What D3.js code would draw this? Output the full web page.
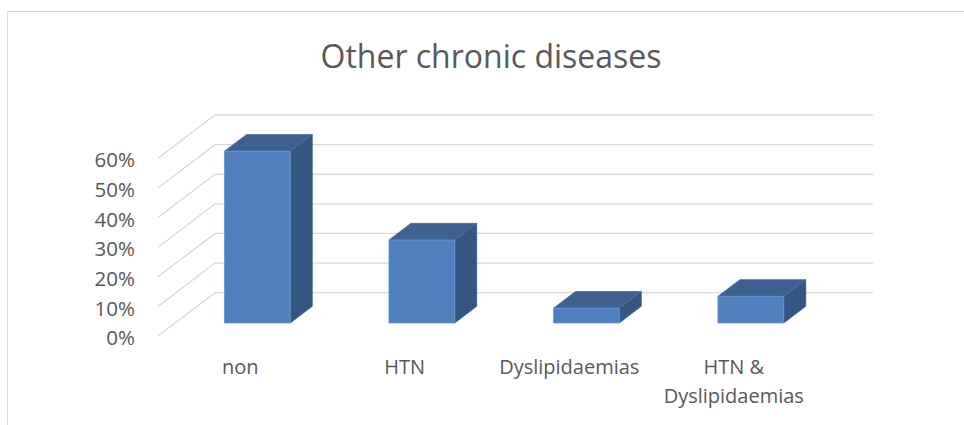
<!DOCTYPE html>
<html>
<head>
<meta charset="utf-8">
<script src="https://cdn.jsdelivr.net/npm/d3@7"></script>
<style>
  html, body { margin: 0; padding: 0; background: #fff; }
  svg { display: block; }
  text { font-family: "Open Sans", "Noto Sans", sans-serif; fill: #595959; }
</style>
</head>
<body>
<svg id="chart" width="964" height="425"></svg>
<script>
// Share of respondents by other chronic disease
const categories = ["non", "HTN", "Dyslipidaemias", "HTN & Dyslipidaemias"];
const values = [0.58, 0.28, 0.05, 0.09];
const tickValues = [0, 0.1, 0.2, 0.3, 0.4, 0.5, 0.6];
const titleText = "Other chronic diseases";

const svg = d3.select("#chart");

// chart area frame
svg.append("rect")
  .attr("x", 7.5).attr("y", 11.5)
  .attr("width", 1000).attr("height", 500)
  .attr("fill", "#fff").attr("stroke", "#d9d9d9").attr("stroke-width", 1);

// front-floor scales; depth goes from front (0) to back wall (1)
const x = d3.scaleBand().domain(categories).range([158, 816])
  .paddingInner(0.6).paddingOuter(0.3);
const y = d3.scaleLinear().domain([0, 0.6]).range([336, 158.3]);
const depth = { dx: 57, dy: -43.3 };
const proj = (xf, v, t) => [xf + depth.dx * t, y(v) + depth.dy * t];
const line = d3.line();

// gridlines: side-wall diagonal then along the back wall
const [x0, x1] = x.range();
svg.append("g").selectAll("path").data(tickValues).join("path")
  .attr("d", v => line([proj(x0, v, 0), proj(x0, v, 1), proj(x1, v, 1)]))
  .attr("fill", "none").attr("stroke", "#d9d9d9").attr("stroke-width", 1.3);

// value axis labels
svg.append("g").selectAll("text").data(tickValues).join("text")
  .attr("x", 135).attr("y", v => y(v) + 2).attr("dy", "0.35em")
  .attr("text-anchor", "end").attr("font-size", 20.5)
  .text(d3.format(".0%"));

// 3D bars
const tFront = 0.3, tBack = 0.686;
const bars = svg.append("g").selectAll("g").data(categories.map((c, i) => ({ c, v: values[i] })))
  .join("g");
bars.append("path") // right side
  .attr("d", d => {
    const xr = x(d.c) + x.bandwidth();
    return line([proj(xr, 0, tFront), proj(xr, d.v, tFront), proj(xr, d.v, tBack), proj(xr, 0, tBack)]) + "Z";
  })
  .attr("fill", "#335683").attr("stroke", "#3a6094").attr("stroke-width", 0.8);
bars.append("path") // top
  .attr("d", d => {
    const xl = x(d.c), xr = xl + x.bandwidth();
    return line([proj(xl, d.v, tFront), proj(xr, d.v, tFront), proj(xr, d.v, tBack), proj(xl, d.v, tBack)]) + "Z";
  })
  .attr("fill", "#3d6290").attr("stroke", "#46709f").attr("stroke-width", 0.8);
bars.append("path") // front
  .attr("d", d => {
    const xl = x(d.c), xr = xl + x.bandwidth();
    return line([proj(xl, 0, tFront), proj(xr, 0, tFront), proj(xr, d.v, tFront), proj(xl, d.v, tFront)]) + "Z";
  })
  .attr("fill", "#4f7fbc").attr("stroke", "#6a97cf").attr("stroke-width", 0.8);

// category labels, wrapped to the band step
const step = x.step();
const catG = svg.append("g");
categories.forEach(c => {
  const cx = x(c) + x.bandwidth() / 2;
  const t = catG.append("text")
    .attr("x", cx).attr("y", 374)
    .attr("text-anchor", "middle").attr("font-size", 20);
  const words = c.split(" ");
  let lineWords = [];
  let tspan = t.append("tspan").attr("x", cx).attr("dy", 0);
  words.forEach(w => {
    lineWords.push(w);
    tspan.text(lineWords.join(" "));
    if (tspan.node().getComputedTextLength() > step && lineWords.length > 1) {
      lineWords.pop();
      tspan.text(lineWords.join(" "));
      lineWords = [w];
      tspan = t.append("tspan").attr("x", cx).attr("dy", 29).text(w);
    }
  });
});

// title
svg.append("text")
  .attr("x", 491).attr("y", 67.5)
  .attr("text-anchor", "middle").attr("font-size", 32)
  .text(titleText);
</script>
</body>
</html>
